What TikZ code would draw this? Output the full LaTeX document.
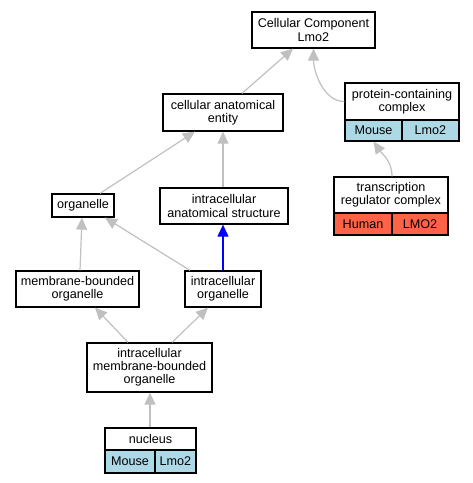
\documentclass[tikz,border=0pt]{standalone}
\usepackage{fontspec}
\setmainfont{Liberation Sans}
\usetikzlibrary{arrows.meta}
\definecolor{edgegray}{HTML}{C0C0C0}
\definecolor{mouseblue}{HTML}{ADD8E6}
\definecolor{humanred}{HTML}{FF6347}
\begin{document}
\begin{tikzpicture}[x=1pt,y=1pt,
  box/.style={draw=black,line width=1.25pt,fill=white,inner sep=0pt,align=center,font=\fontsize{12.6}{13.2}\selectfont},
  mcell/.style={box,fill=mouseblue},
  hcell/.style={box,fill=humanred},
  edge/.style={draw=edgegray,line width=1.2pt,-{Triangle[length=12pt,width=11pt]}},
  isa/.style={edge,draw=blue,-{Triangle[length=12pt,width=11pt]}}]
\useasboundingbox (0,0) rectangle (473,-483);
% nodes
\node[box,minimum width=123pt,minimum height=36pt] (cc) at (313.5,-30) {Cellular Component\\Lmo2};
\node[box,minimum width=114pt,minimum height=37pt] (pcc) at (402,-101.5) {protein-containing\\complex};
\node[mcell,minimum width=57pt,minimum height=21pt] (pccm) at (373.5,-130.5) {Mouse};
\node[mcell,minimum width=57pt,minimum height=21pt] (pccl) at (430.5,-130.5) {Lmo2};
\node[box,minimum width=114pt,minimum height=36pt] (trc) at (391,-195) {transcription\\regulator complex};
\node[hcell,minimum width=58pt,minimum height=22pt] (trch) at (363,-224) {Human};
\node[hcell,minimum width=56pt,minimum height=22pt] (trcl) at (420,-224) {LMO2};
\node[box,minimum width=120pt,minimum height=37pt] (cae) at (223,-112.5) {cellular anatomical\\entity};
\node[box,minimum width=62pt,minimum height=23pt] (org) at (83,-205.5) {organelle};
\node[box,minimum width=128pt,minimum height=36pt] (ias) at (224,-206) {intracellular\\anatomical structure};
\node[box,minimum width=123pt,minimum height=36pt] (mbo) at (77.5,-289) {membrane-bounded\\organelle};
\node[box,minimum width=76pt,minimum height=36pt] (io) at (223,-289) {intracellular\\organelle};
\node[box,minimum width=125pt,minimum height=49pt] (imbo) at (149.5,-367.5) {intracellular\\membrane-bounded\\organelle};
\node[box,minimum width=91pt,minimum height=22pt] (nuc) at (150.5,-439) {nucleus};
\node[mcell,minimum width=50pt,minimum height=23pt] (nucm) at (130,-461.5) {Mouse};
\node[mcell,minimum width=41pt,minimum height=23pt] (nucl) at (175.5,-461.5) {Lmo2};
% edges
\draw[edge] ([xshift=19pt]cae.north) -- ([xshift=-20.5pt]cc.south);
\draw[edge] (pcc.west) to[out=180,in=-90,looseness=0.9] (cc.south);
\draw[edge] ([xshift=1pt]trc.north) to[out=90,in=-55] (pccm.south);
\draw[edge] ([xshift=17pt]org.north) -- ([xshift=-28pt]cae.south);
\draw[edge] ([xshift=-1pt]ias.north) -- (cae.south);
\draw[edge] ([xshift=2.5pt]mbo.north) -- ([xshift=-1pt]org.south);
\draw[edge] ([xshift=-33pt]io.north) -- ([xshift=22pt]org.south);
\draw[isa] (io.north) -- ([xshift=-1pt]ias.south);
\draw[edge] ([xshift=-21.5pt]imbo.north) -- ([xshift=17.5pt]mbo.south);
\draw[edge] ([xshift=22.5pt]imbo.north) -- ([xshift=-15pt]io.south);
\draw[edge] ([xshift=-0.5pt]nuc.north) -- ([xshift=0.5pt]imbo.south);
\end{tikzpicture}
\end{document}
